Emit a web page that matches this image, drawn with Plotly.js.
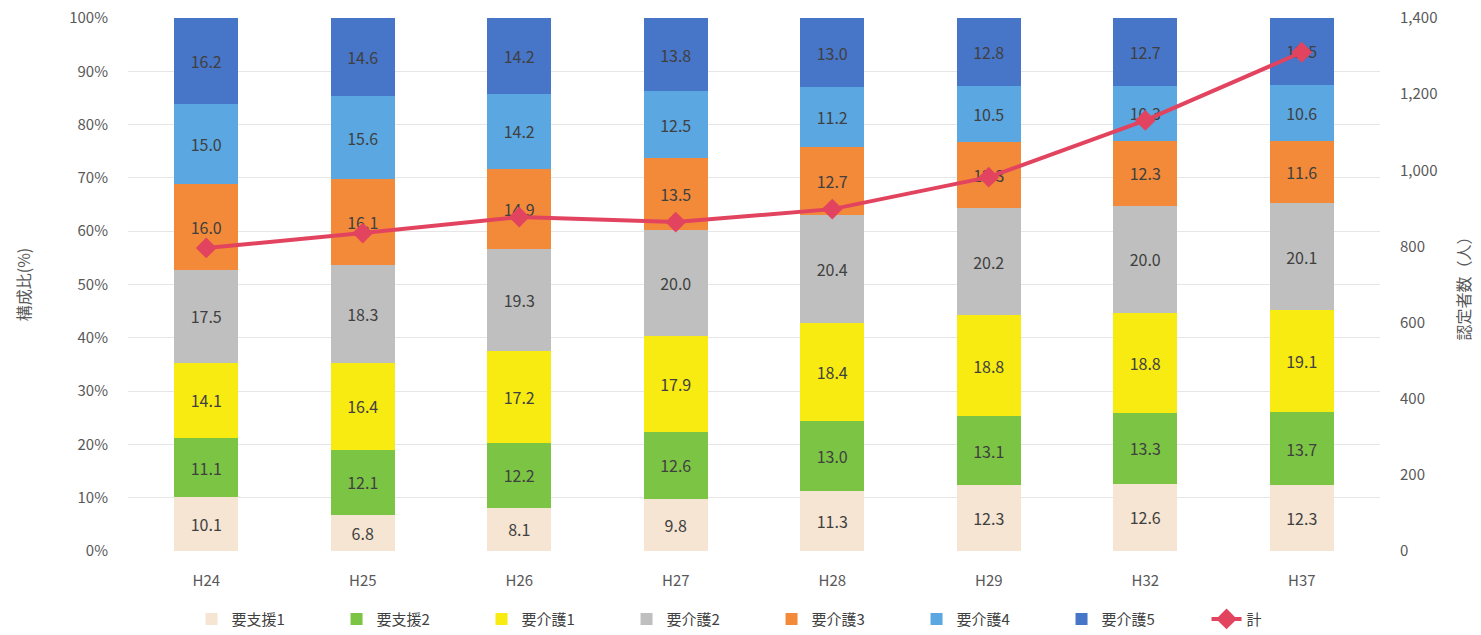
<!DOCTYPE html>
<html>
<head>
<meta charset="utf-8">
<script src="https://cdn.plot.ly/plotly-3.0.1.min.js"></script>
<style>html,body{margin:0;padding:0;background:#fff;}#chart{width:1481px;height:635px;}</style>
</head>
<body>
<div id="chart"></div>
<script>
const categories = ['H24','H25','H26','H27','H28','H29','H32','H37'];
const seriesNames = ['要支援1','要支援2','要介護1','要介護2','要介護3','要介護4','要介護5'];
const shien1 = [10.1, 6.8, 8.1, 9.8, 11.3, 12.3, 12.6, 12.3];
const shien2 = [11.1, 12.1, 12.2, 12.6, 13.0, 13.1, 13.3, 13.7];
const kaigo1 = [14.1, 16.4, 17.2, 17.9, 18.4, 18.8, 18.8, 19.1];
const kaigo2 = [17.5, 18.3, 19.3, 20.0, 20.4, 20.2, 20.0, 20.1];
const kaigo3 = [16.0, 16.1, 14.9, 13.5, 12.7, 12.3, 12.3, 11.6];
const kaigo4 = [15.0, 15.6, 14.2, 12.5, 11.2, 10.5, 10.3, 10.6];
const kaigo5 = [16.2, 14.6, 14.2, 13.8, 13.0, 12.8, 12.7, 12.5];
const total = [796, 835, 877, 864, 898, 982, 1131, 1310];
const lineName = '計';

const seriesValues = [shien1, shien2, kaigo1, kaigo2, kaigo3, kaigo4, kaigo5];
const colors = ['#f5e5d2','#7cc544','#f7eb12','#bfbfbf','#f28a3a','#5aa7e2','#4775c8'];
const FONT = '"Noto Sans CJK JP", "Noto Sans", sans-serif';

const traces = seriesValues.map((vals, i) => ({
  type: 'bar',
  name: seriesNames[i],
  x: categories,
  y: vals,
  text: vals.map(v => v.toFixed(1)),
  texttemplate: '%{text}',
  textposition: 'inside',
  insidetextanchor: 'middle',
  textangle: 0,
  constraintext: 'none',
  textfont: {family: FONT, size: 16, color: '#404040'},
  marker: {color: colors[i], line: {width: 0}},
  hoverinfo: 'skip'
}));

traces.push({
  type: 'scatter',
  mode: 'lines+markers',
  name: lineName,
  x: categories,
  y: total,
  yaxis: 'y2',
  line: {color: '#e2445f', width: 4},
  marker: {symbol: 'diamond', size: 16, color: '#e2445f'}
});

const layout = {
  width: 1481,
  height: 635,
  margin: {l: 128, r: 101, t: 18, b: 84, autoexpand: false},
  paper_bgcolor: '#ffffff',
  plot_bgcolor: '#ffffff',
  barmode: 'stack',
  barnorm: 'percent',
  bargap: 0.59,
  font: {family: FONT, size: 15, color: '#595959'},
  showlegend: true,
  legend: {
    orientation: 'h',
    x: 0.514, xanchor: 'center',
    y: -0.128, yanchor: 'middle',
    font: {family: FONT, size: 15, color: '#404040'},
    entrywidth: 100,
    traceorder: 'normal',
    itemclick: false
  },
  xaxis: {
    type: 'category',
    showgrid: false,
    showline: false,
    automargin: false,
    ticks: 'outside', ticklen: 16, tickcolor: 'rgba(0,0,0,0)',
    tickfont: {family: FONT, size: 15, color: '#595959'}
  },
  yaxis: {
    range: [0, 100],
    dtick: 10,
    ticksuffix: '%',
    showgrid: true,
    gridcolor: '#e6e6e6',
    gridwidth: 1,
    zeroline: false,
    showline: false,
    automargin: false,
    ticks: 'outside', ticklen: 16, tickcolor: 'rgba(0,0,0,0)',
    tickfont: {family: FONT, size: 15, color: '#595959'},
    title: {text: '構成比(%)', font: {family: FONT, size: 16, color: '#595959'}, standoff: 34}
  },
  yaxis2: {
    overlaying: 'y',
    side: 'right',
    range: [0, 1400],
    dtick: 200,
    tickformat: ',d',
    showgrid: false,
    zeroline: false,
    showline: false,
    automargin: false,
    ticks: 'outside', ticklen: 16, tickcolor: 'rgba(0,0,0,0)',
    tickfont: {family: FONT, size: 15, color: '#595959'},
    title: {text: '認定者数（人）', font: {family: FONT, size: 16, color: '#595959'}, standoff: 22}
  }
};

Plotly.newPlot('chart', traces, layout, {staticPlot: true, displayModeBar: false});
</script>
</body>
</html>
